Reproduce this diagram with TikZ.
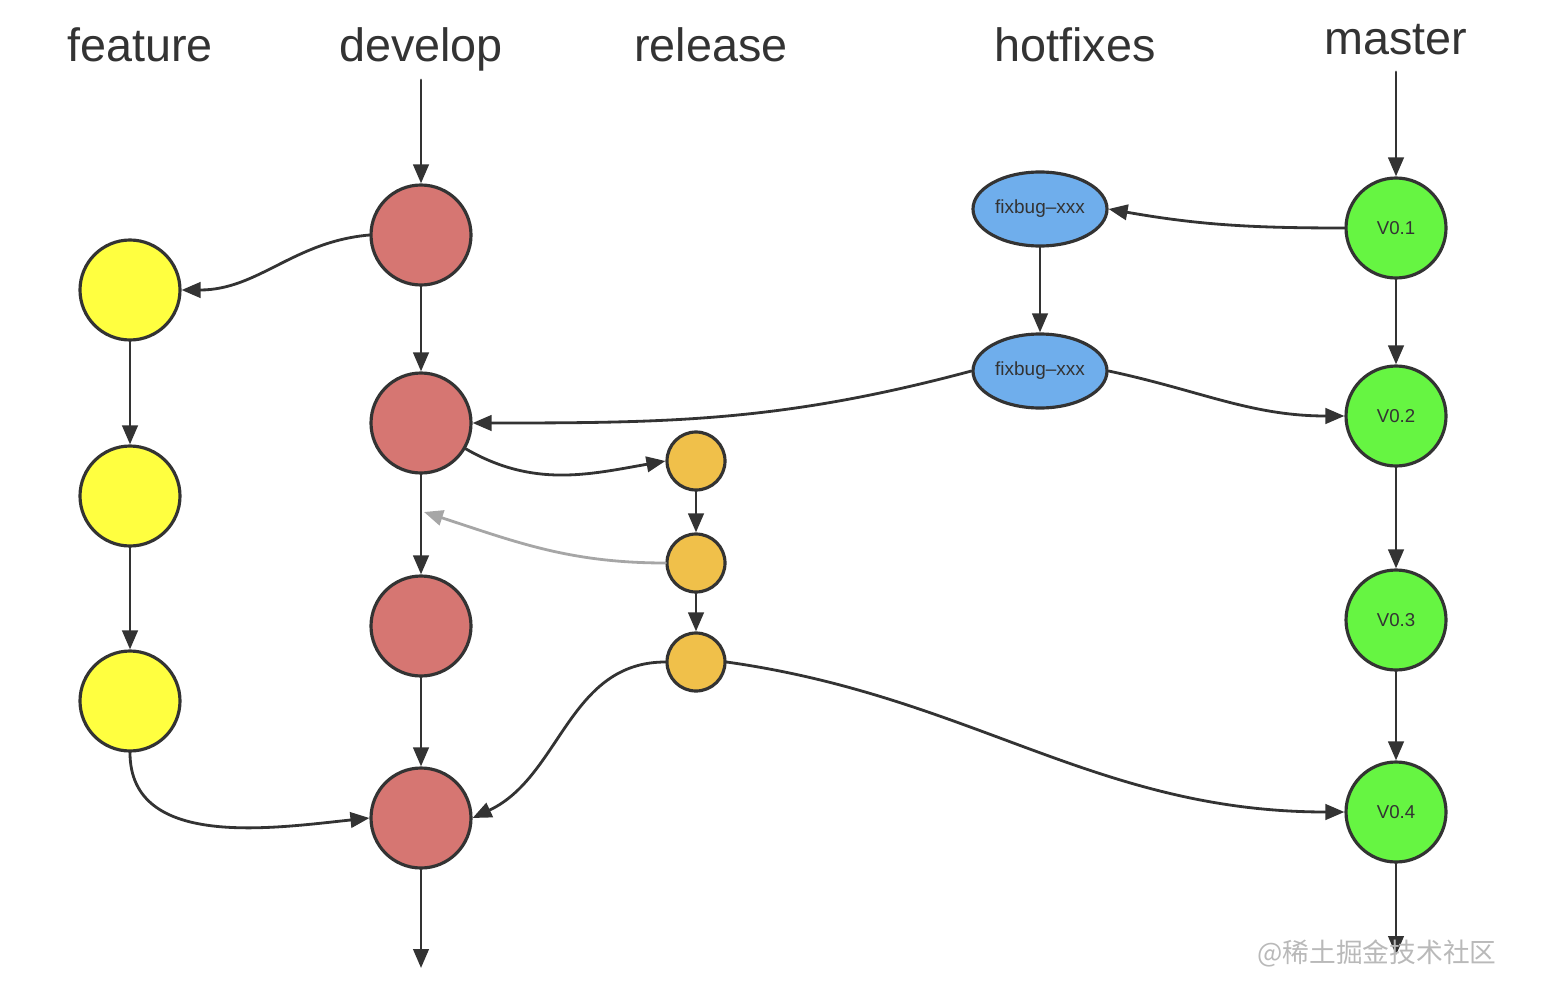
\documentclass[tikz,border=0pt]{standalone}
\usepackage{fontspec}
\setmainfont{Liberation Sans}
\newfontfamily\cjkfont{Noto Sans CJK SC}
\usetikzlibrary{arrows.meta,shapes.geometric}
\definecolor{devred}{RGB}{214,118,114}
\definecolor{featyellow}{RGB}{255,255,64}
\definecolor{relorange}{RGB}{240,192,74}
\definecolor{hotblue}{RGB}{111,174,236}
\definecolor{mastgreen}{RGB}{102,245,66}
\definecolor{inkgray}{RGB}{51,51,51}
\begin{document}
\begin{tikzpicture}[line join=round,line cap=round,>={Triangle[length=5.4pt,width=4.4pt]}]
			\tikzset{commit/.style={circle,draw=inkgray,line width=0.9pt,minimum size=1cm,inner sep=0pt},
				small commit/.style={commit,minimum size=0.58cm},
				fix/.style={ellipse,draw=inkgray,line width=0.9pt,fill=hotblue,minimum width=1.34cm,minimum height=0.74cm,inner sep=0pt,font=\fontsize{5.4pt}{6pt}\selectfont,text=inkgray},
				ver/.style={commit,fill=mastgreen,font=\fontsize{5.3pt}{6pt}\selectfont,text=inkgray},
				head/.style={anchor=base,font=\fontsize{13.3pt}{15pt}\selectfont,text=inkgray},
				link/.style={->,draw=inkgray,line width=0.8pt}}
			\useasboundingbox (0,0) rectangle (15.42,-10.02);
			\def \xf{1.30}
			\def \xd{4.21}
			\def \xr{6.96}
			\def \xh{10.40}
			\def \xm{13.96}
			% branch names
			\node[head] (tfeature) at (1.40,-0.62) {feature};
			\node[head] (tdevelop) at (\xd,-0.62) {develop};
			\node[head] (trelease) at (7.11,-0.62) {release};
			\node[head] (thotfixes) at (10.75,-0.62) {hotfixes};
			\node[head] (tmaster) at (\xm,-0.55) {master};
			% commits
			\foreach \n/\y in {1/-2.35,2/-4.23,3/-6.26,4/-8.18}
				\node[commit,fill=devred] (d\n) at (\xd,\y) {};
			\foreach \n/\y in {1/-2.90,2/-4.96,3/-7.01}
				\node[commit,fill=featyellow] (f\n) at (\xf,\y) {};
			\foreach \n/\y in {1/-4.61,2/-5.63,3/-6.62}
				\node[small commit,fill=relorange] (r\n) at (\xr,\y) {};
			\node[fix] (h1) at (\xh,-2.09) {fixbug–xxx};
			\node[fix] (h2) at (\xh,-3.71) {fixbug–xxx};
			\foreach \n/\y in {1/-2.28,2/-4.16,3/-6.20,4/-8.12}
				\node[ver] (m\n) at (\xm,\y) {V0.\n};
			\coordinate (dtop) at (\xd,-0.80);
			\coordinate (dend) at (\xd,-9.68);
			\coordinate (mtop) at (\xm,-0.72);
			\coordinate (mend) at (\xm,-9.55);
			\coordinate (dmid) at (4.24,-5.12);
			% straight lines
			\draw[link] (dtop)--(d1);
			\draw[link] (d1)--(d2);
			\draw[link] (d2)--(d3);
			\draw[link] (d3)--(d4);
			\draw[link] (d4)--(dend);
			\draw[link] (f1)--(f2);
			\draw[link] (f2)--(f3);
			\draw[link] (r1)--(r2);
			\draw[link] (r2)--(r3);
			\draw[link] (h1)--(h2);
			\draw[link] (mtop)--(m1);
			\draw[link] (m1)--(m2);
			\draw[link] (m2)--(m3);
			\draw[link] (m3)--(m4);
			\draw[link] (m4)--(mend);
			% merges
			\draw[link] (d1.west) to[out=185,in=0] (f1.east);
			\draw[link] (f3.south) to[out=-90,in=186] (d4.west);
			\draw[link] (d2.-30) to[out=-30,in=190] (r1.west);
			\draw[link,draw=gray!70] (r2.west) to[out=180,in=-18] (dmid);
			\draw[link] (r3.west) to[out=180,in=25] (d4.east);
			\draw[link] (r3.east) to[out=-8,in=180] (m4.west);
			\draw[link] (h2.west) to[out=195,in=0] (d2.east);
			\draw[link] (h2.east) to[out=-12,in=180] (m2.west);
			\draw[link] (m1.west) to[out=180,in=-10] (h1.east);
			\node[text=gray!55,font=\cjkfont\fontsize{7.6pt}{9pt}\selectfont] (mark) at (13.77,-9.53) {@稀土掘金技术社区};
		\end{tikzpicture}
\end{document}
